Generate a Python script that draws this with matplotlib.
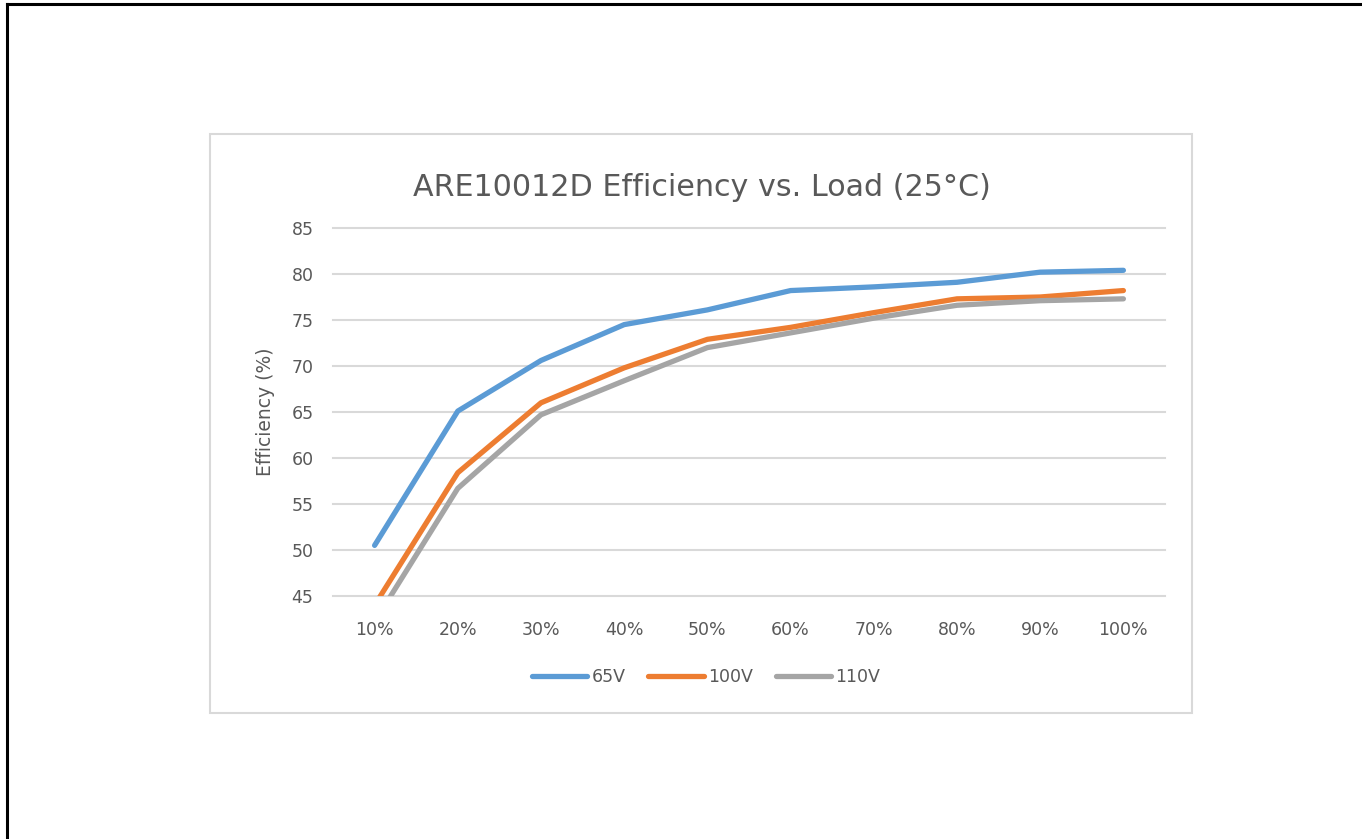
import numpy as np
import matplotlib
matplotlib.use('Agg')
import matplotlib.pyplot as plt
from matplotlib.patches import Rectangle
from matplotlib.lines import Line2D

# data
loads = ['10%', '20%', '30%', '40%', '50%', '60%', '70%', '80%', '90%', '100%']
eff_65v = [50.5, 65.1, 70.6, 74.5, 76.1, 78.2, 78.6, 79.1, 80.2, 80.4]
eff_100v = [44.0, 58.4, 66.0, 69.8, 72.9, 74.2, 75.8, 77.3, 77.5, 78.2]
eff_110v = [42.2, 56.7, 64.7, 68.4, 72.0, 73.6, 75.2, 76.6, 77.1, 77.3]
series_names = ['65V', '100V', '110V']
colors = ['#5B9BD5', '#ED7D31', '#A5A5A5']
yticks = [45, 50, 55, 60, 65, 70, 75, 80, 85]

txt = '#595959'
plt.rcParams['font.family'] = ['DejaVu Sans']

fig = plt.figure(figsize=(13.62, 8.39), dpi=100)

# black page border (top and left only visible)
fig.add_artist(Line2D([7/1362, 1], [1 - 4/839, 1 - 4/839], color='black', lw=2.2,
                      transform=fig.transFigure))
fig.add_artist(Line2D([7/1362, 7/1362], [0, 1 - 4/839], color='black', lw=2.2,
                      transform=fig.transFigure))

# chart frame
fig.add_artist(Rectangle((210/1362, 1 - 713/839), 982/1362, 579/839,
                         transform=fig.transFigure, fill=False,
                         edgecolor='#D9D9D9', lw=1.5))

ax = fig.add_axes([333/1362, 1 - 596/839, 832/1362, 368/839])
x = np.arange(len(loads))
for vals, name, c in zip([eff_65v, eff_100v, eff_110v], series_names, colors):
    ax.plot(x, vals, color=c, lw=3.8, solid_capstyle='round',
            solid_joinstyle='round', label=name)

ax.set_xlim(-0.5, len(loads) - 0.5)
ax.set_ylim(45, 85)
ax.set_yticks(yticks)
ax.set_xticks(x)
ax.set_xticklabels(loads)
ax.yaxis.grid(True, color='#D9D9D9', lw=1.5)
for gl in ax.get_ygridlines():
    gl.set_clip_on(False)
ax.set_axisbelow(True)
for s in ax.spines.values():
    s.set_visible(False)
ax.tick_params(axis='both', length=0, colors=txt, labelsize=12.5)
ax.tick_params(axis='x', pad=18)
ax.tick_params(axis='y', pad=14)
ax.set_ylabel('Efficiency (%)', color=txt, fontsize=13.5, labelpad=12)

fig.text(702/1362, 1 - 187/839, 'ARE10012D Efficiency vs. Load (25°C)',
         ha='center', va='center', color=txt, fontsize=21.7)

leg = ax.legend(loc='center', bbox_to_anchor=(706/1362, 1 - 677/839),
                bbox_transform=fig.transFigure, ncol=3, frameon=False,
                fontsize=12.5, handlelength=3.2, handletextpad=0.25,
                columnspacing=1.3, labelcolor=txt)

fig.savefig('out.png', dpi=100)
